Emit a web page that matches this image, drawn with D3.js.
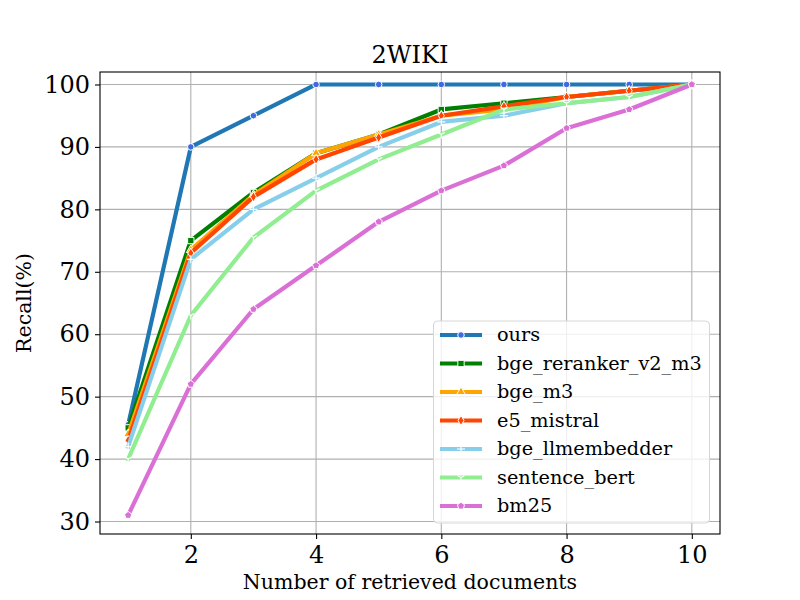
<!DOCTYPE html>
<html>
<head>
<meta charset="utf-8">
<script src="https://cdn.jsdelivr.net/npm/d3@7"></script>
<style>
body { margin: 0; background: #fff; }
svg { font-family: "DejaVu Serif", serif; }
</style>
</head>
<body>
<div id="chart"></div>
<script>
// data
var docs = [1, 2, 3, 4, 5, 6, 7, 8, 9, 10];
var seriesNames = ["ours", "bge_reranker_v2_m3", "bge_m3", "e5_mistral", "bge_llmembedder", "sentence_bert", "bm25"];
var ours = [45.5, 90, 95, 100, 100, 100, 100, 100, 100, 100];
var bgeReranker = [45, 75, 82.7, 89, 92, 96, 97, 98, 99, 100];
var bgeM3 = [44, 73.5, 82.3, 89, 92, 95, 96, 98, 99, 100];
var e5Mistral = [43, 73, 82, 88, 91.5, 95, 96.5, 98, 99, 100];
var bgeLlm = [42, 72, 80, 85, 90, 94, 95, 97, 98, 100];
var sentenceBert = [40, 63, 75.5, 83, 88, 92, 96, 97, 98, 100];
var bm25 = [31, 52, 64, 71, 78, 83, 87, 93, 96, 100];
var xTicks = [2, 4, 6, 8, 10];
var yTicks = [30, 40, 50, 60, 70, 80, 90, 100];

var colors = ["#1f77b4", "#008000", "#ffa500", "#ff4500", "#87ceeb", "#90ee90", "#da70d6"];
var markFill = ["#4169e1", "#008000", "#ffa500", "#ff4500", "#87ceeb", "#90ee90", "#da70d6"];
var markers = ["circle", "square", "triangle", "thindiamond", "plus", "tri", "pentagon"];

var allSeries = [ours, bgeReranker, bgeM3, e5Mistral, bgeLlm, sentenceBert, bm25];
var series = seriesNames.map(function(n, i) {
  return { name: n, values: allSeries[i], color: colors[i], fill: markFill[i], marker: markers[i] };
});

var W = 800, H = 600;
var pLeft = 100, pRight = 720, pTop = 72, pBottom = 534;

var svg = d3.select("#chart").append("svg").attr("width", W).attr("height", H);

var x = d3.scaleLinear().domain([0.55, 10.45]).range([pLeft, pRight]);
var y = d3.scaleLinear().domain([28, 102]).range([pBottom, pTop]);

// grid
svg.append("g").selectAll("line").data(xTicks).enter().append("line")
  .attr("x1", d => x(d)).attr("x2", d => x(d)).attr("y1", pTop).attr("y2", pBottom)
  .attr("stroke", "#b0b0b0").attr("stroke-width", 1.1);
svg.append("g").selectAll("line").data(yTicks).enter().append("line")
  .attr("y1", d => y(d)).attr("y2", d => y(d)).attr("x1", pLeft).attr("x2", pRight)
  .attr("stroke", "#b0b0b0").attr("stroke-width", 1.1);

// axes
var xAxis = svg.append("g").attr("transform", "translate(0," + pBottom + ")")
  .call(d3.axisBottom(x).tickValues(xTicks).tickSize(5).tickPadding(7).tickFormat(d3.format("d")));
var yAxis = svg.append("g").attr("transform", "translate(" + pLeft + ",0)")
  .call(d3.axisLeft(y).tickValues(yTicks).tickSize(5).tickPadding(5).tickFormat(d3.format("d")));
[xAxis, yAxis].forEach(function(a) {
  a.select(".domain").remove();
  a.selectAll("line").attr("stroke", "#000").attr("stroke-width", 1.1);
  a.selectAll("text").attr("font-family", "DejaVu Serif").attr("font-size", "24px").attr("fill", "#000");
});

function markerPath(type) {
  if (type == "circle") return d3.symbol(d3.symbolCircle, 34)();
  if (type == "square") return d3.symbol(d3.symbolSquare, 40)();
  if (type == "triangle") return d3.symbol(d3.symbolTriangle, 34)();
  if (type == "thindiamond") return "M0,-5L3,0L0,5L-3,0Z";
  if (type == "plus") return "M-4,0L4,0M0,-4L0,4";
  if (type == "tri") return "M0,0L0,4M0,0L-3.5,-2M0,0L3.5,-2";
  if (type == "pentagon") {
    var pts = d3.range(5).map(function(k) {
      var a = -Math.PI / 2 + k * 2 * Math.PI / 5;
      return [3.8 * Math.cos(a), 3.8 * Math.sin(a)];
    });
    return "M" + pts.join("L") + "Z";
  }
}

function drawMarker(g, s) {
  var p = g.append("path").attr("d", markerPath(s.marker));
  if (s.marker == "plus" || s.marker == "tri") {
    p.attr("fill", "none").attr("stroke", "#fff").attr("stroke-width", 1.2);
  } else {
    p.attr("fill", s.fill).attr("stroke", "#fff").attr("stroke-width", 1);
  }
}

var line = d3.line().x((d, i) => x(docs[i])).y(d => y(d));

series.forEach(function(s) {
  var g = svg.append("g");
  g.append("path").datum(s.values).attr("d", line)
    .attr("fill", "none").attr("stroke", s.color).attr("stroke-width", 4.2)
    .attr("stroke-linejoin", "round").attr("stroke-linecap", "square");
  s.values.forEach(function(v, i) {
    var m = g.append("g").attr("transform", "translate(" + x(docs[i]) + "," + y(v) + ")");
    drawMarker(m, s);
  });
});

// frame
svg.append("rect").attr("x", pLeft).attr("y", pTop).attr("width", pRight - pLeft).attr("height", pBottom - pTop)
  .attr("fill", "none").attr("stroke", "#000").attr("stroke-width", 1.1);

// title and labels
svg.append("text").attr("x", (pLeft + pRight) / 2).attr("y", 63).attr("text-anchor", "middle")
  .attr("font-size", "24px").text("2WIKI");
svg.append("text").attr("x", (pLeft + pRight) / 2).attr("y", 589).attr("text-anchor", "middle")
  .attr("font-size", "20.5px").text("Number of retrieved documents");
svg.append("text").attr("transform", "translate(31," + ((pTop + pBottom) / 2) + ") rotate(-90)")
  .attr("text-anchor", "middle").attr("font-size", "20.5px").text("Recall(%)");

// legend
var lg = svg.append("g");
lg.append("rect").attr("x", 433.5).attr("y", 321).attr("width", 276).attr("height", 202)
  .attr("rx", 4).attr("fill", "#fff").attr("fill-opacity", 0.8)
  .attr("stroke", "#d6d6d6").attr("stroke-width", 1);
series.forEach(function(s, i) {
  var yy = 335 + i * 28.5;
  lg.append("line").attr("x1", 440).attr("x2", 482).attr("y1", yy).attr("y2", yy)
    .attr("stroke", s.color).attr("stroke-width", 4.2);
  var m = lg.append("g").attr("transform", "translate(461," + yy + ")");
  drawMarker(m, s);
  lg.append("text").attr("x", 497).attr("y", yy).attr("dy", "0.33em")
    .attr("font-size", "19.3px").text(s.name);
});
</script>
</body>
</html>
